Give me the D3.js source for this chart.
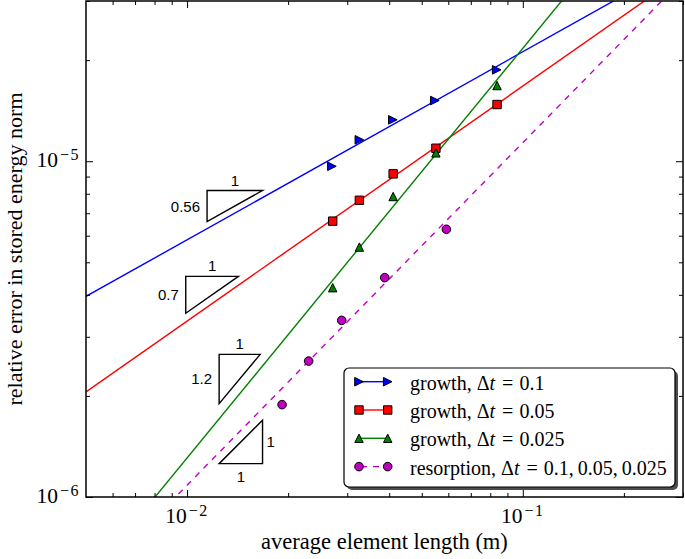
<!DOCTYPE html>
<html><head><meta charset="utf-8">
<script src="https://cdn.jsdelivr.net/npm/d3@7"></script>
<style>body{margin:0;background:#fff}</style>
</head><body><svg id="c" width="685" height="559"></svg>
<script>
// ---- data ----
const growthX01 = [0.0270, 0.0326, 0.0410, 0.0547, 0.0836];
const growthY01 = [9.66e-6, 1.158e-5, 1.328e-5, 1.516e-5, 1.871e-5];
const growthX005 = [0.02715, 0.0326, 0.0411, 0.0551, 0.0838];
const growthY005 = [6.63e-6, 7.65e-6, 9.17e-6, 1.093e-5, 1.475e-5];
const growthX0025 = [0.02715, 0.0326, 0.0411, 0.0551, 0.0838];
const growthY0025 = [4.20e-6, 5.55e-6, 7.85e-6, 1.059e-5, 1.68e-5];
const resorpX = [0.01918, 0.02302, 0.02888, 0.0388, 0.0592];
const resorpY = [1.884e-6, 2.54e-6, 3.357e-6, 4.50e-6, 6.27e-6];

// power-law fits  y = coef * x^exp
const fitExp = [0.56, 0.70, 1.22, 1.02];
const fitCoef = [7.69e-5, 8.39e-5, 3.60e-4, 1.189e-4];

// slope triangles (data space)
const triLeft = [0.01147, 0.00991, 0.01246, 0.01246];
const triRight = [0.01678, 0.01422, 0.01651, 0.01678];
const triRefY = [8.18e-6, 4.54e-6, 2.66e-6, 1.257e-6];
const triSlope = [0.56, 0.7, 1.2, 1.0];
const triLabel = ["0.56", "0.7", "1.2", "1"];
const triKind = ["upper", "upper", "upper", "lower"];

const legendLabels = ["growth, ", "growth, ", "growth, ", "resorption, "];
const legendDt = ["0.1", "0.05", "0.025", "0.1,\u20090.05,\u20090.025"];
const seriesColors = ["#0000ff", "#ff0000", "#008000", "#bf00bf"];
const seriesMarkers = ["right", "square", "up", "circle"];

const xMajor = [0.01, 0.1];
const xMajorExp = ["\u22122", "\u22121"];
const yMajor = [1e-6, 1e-5];
const yMajorExp = ["\u22126", "\u22125"];
const xMinor = [0.006,0.007,0.008,0.009,0.02,0.03,0.04,0.05,0.06,0.07,0.08,0.09,0.2,0.3];
const yMinor = [2e-6,3e-6,4e-6,5e-6,6e-6,7e-6,8e-6,9e-6,2e-5,3e-5];

// ---- layout ----
const L = 86, R = 683, T = 1, B = 497;
const svg = d3.select("#c");
const x = d3.scaleLog().domain([0.005, 0.3]).range([L, R]);
const y = d3.scaleLog().domain([1e-6, 3e-5]).range([B, T]);
const serif = "'Liberation Serif','Times New Roman',serif";
const sans = "'Liberation Sans',Arial,sans-serif";

svg.append("defs").append("clipPath").attr("id", "clip")
  .append("rect").attr("x", L).attr("y", T).attr("width", R - L).attr("height", B - T);

const plot = svg.append("g").attr("clip-path", "url(#clip)");

// fit lines
const dom = x.domain();
fitExp.forEach((e, i) => {
  const pts = dom.map(v => [v, fitCoef[i] * Math.pow(v, e)]);
  plot.append("path")
    .attr("d", d3.line().x(d => x(d[0])).y(d => y(d[1]))(pts))
    .attr("fill", "none").attr("stroke", seriesColors[i]).attr("stroke-width", 1.4)
    .attr("stroke-dasharray", i === 3 ? "6,6" : null);
});

function markerPath(kind, s) {
  if (kind === "right") return `M${s},0L${-s},${-s}L${-s},${s}Z`;
  if (kind === "up") return `M0,${-s}L${-s},${s}L${s},${s}Z`;
  if (kind === "square") return `M${-s},${-s}H${s}V${s}H${-s}Z`;
  return d3.symbol(d3.symbolCircle, Math.PI * s * s)();
}
const markerSize = [4.3, 4.2, 4.2, 4.3];

const series = [[growthX01, growthY01], [growthX005, growthY005], [growthX0025, growthY0025], [resorpX, resorpY]];
const markG = svg.append("g");
series.forEach(([xs, ys], i) => {
  markG.selectAll(null).data(xs.map((v, j) => [v, ys[j]])).enter().append("path")
    .attr("d", markerPath(seriesMarkers[i], markerSize[i]))
    .attr("transform", d => `translate(${x(d[0])},${y(d[1])})`)
    .attr("fill", seriesColors[i]).attr("stroke", "#000").attr("stroke-width", 1);
});

// slope triangles
const triG = svg.append("g");
triLeft.forEach((xl, i) => {
  const xr = triRight[i];
  const w = Math.log10(xr / xl);
  const f = Math.pow(10, triSlope[i] * w);
  let pts, hx, hy, sx, sy, anchor;
  if (triKind[i] === "upper") {
    const yt = triRefY[i], yb = yt / f;
    pts = [[xl, yt], [xr, yt], [xl, yb]];
    hx = (x(xl) + x(xr)) / 2; hy = y(yt) - 5;
    sx = x(xl) - 7; sy = (y(yt) + y(yb)) / 2 + 5.5; anchor = "end";
  } else {
    const yb = triRefY[i], yt = yb * f;
    pts = [[xl, yb], [xr, yb], [xr, yt]];
    hx = (x(xl) + x(xr)) / 2; hy = y(yb) + 18;
    sx = x(xr) + 4; sy = (y(yt) + y(yb)) / 2 + 5.5; anchor = "start";
  }
  triG.append("path")
    .attr("d", "M" + pts.map(p => [x(p[0]), y(p[1])].join(",")).join("L") + "Z")
    .attr("fill", "none").attr("stroke", "#000").attr("stroke-width", 1.4);
  triG.append("text").attr("x", hx).attr("y", hy).attr("text-anchor", "middle")
    .attr("font-family", sans).attr("font-size", 15).text("1");
  triG.append("text").attr("x", sx).attr("y", sy).attr("text-anchor", anchor)
    .attr("font-family", sans).attr("font-size", 15).text(triLabel[i]);
});

// axes (ticks inward on all sides)
function axes(gen, tf, vals, size) {
  const g = svg.append("g").attr("transform", tf)
    .call(gen.tickValues(vals).tickSize(-size).tickFormat(""));
  g.select(".domain").remove();
  g.selectAll(".tick line").attr("stroke", "#000").attr("stroke-width", 1);
}
axes(d3.axisBottom(x), `translate(0,${B})`, xMajor, 7);
axes(d3.axisBottom(x), `translate(0,${B})`, xMinor, 4);
axes(d3.axisTop(x), `translate(0,${T})`, xMajor, 7);
axes(d3.axisTop(x), `translate(0,${T})`, xMinor, 4);
axes(d3.axisLeft(y), `translate(${L},0)`, yMajor, 7);
axes(d3.axisLeft(y), `translate(${L},0)`, yMinor, 4);
axes(d3.axisRight(y), `translate(${R},0)`, yMajor, 7);
axes(d3.axisRight(y), `translate(${R},0)`, yMinor, 4);

svg.append("rect").attr("x", L).attr("y", T).attr("width", R - L).attr("height", B - T)
  .attr("fill", "none").attr("stroke", "#000").attr("stroke-width", 1.5);

// tick labels
function powLabel(px, py, anchor, exp) {
  const t = svg.append("text").attr("x", px).attr("y", py).attr("text-anchor", anchor)
    .attr("font-family", serif).attr("font-size", 21.5);
  t.append("tspan").text("10");
  t.append("tspan").attr("dx", 2).attr("dy", -7).attr("font-size", 16)
    .attr("letter-spacing", 1.5).text(exp);
}
xMajor.forEach((v, i) => powLabel(x(v), B + 26, "middle", xMajorExp[i]));
yMajor.forEach((v, i) => powLabel(L - 6, y(v) + 6, "end", yMajorExp[i]));

// axis labels
svg.append("text").attr("x", (L + R) / 2).attr("y", 549).attr("text-anchor", "middle")
  .attr("font-family", serif).attr("font-size", 22.5).text("average element length (m)");
svg.append("text").attr("transform", `translate(22,${(T + B) / 2}) rotate(-90)`)
  .attr("text-anchor", "middle").attr("font-family", serif).attr("font-size", 22)
  .text("relative error in stored energy norm");

// legend
const lg = svg.append("g");
const lx = 344, ly = 368, lw = 331, lh = 119;
lg.append("rect").attr("x", lx + 3).attr("y", ly + 3).attr("width", lw).attr("height", lh)
  .attr("rx", 5).attr("fill", "#4d4d4d");
lg.append("rect").attr("x", lx).attr("y", ly).attr("width", lw).attr("height", lh)
  .attr("rx", 5).attr("fill", "#fff").attr("stroke", "#000").attr("stroke-width", 1.2);
legendLabels.forEach((lab, i) => {
  const cy = 381.7 + i * 28.3;
  lg.append("line").attr("x1", 359).attr("x2", 387.7).attr("y1", cy).attr("y2", cy)
    .attr("stroke", seriesColors[i]).attr("stroke-width", 1.4)
    .attr("stroke-dasharray", i === 3 ? "6,6" : null)
    .attr("stroke-dashoffset", i === 3 ? -2 : null);
  [359, 387.7].forEach(mx => {
    lg.append("path").attr("d", markerPath(seriesMarkers[i], markerSize[i]))
      .attr("transform", `translate(${mx},${cy})`)
      .attr("fill", seriesColors[i]).attr("stroke", "#000").attr("stroke-width", 1);
  });
  const t = lg.append("text").attr("x", 410).attr("y", cy + 8)
    .attr("font-family", serif).attr("font-size", 20);
  t.append("tspan").text(lab + "\u0394");
  t.append("tspan").attr("font-style", "italic").text("t");
  t.append("tspan").attr("dx", 7).text("=");
  t.append("tspan").attr("dx", 6).text(legendDt[i]);
});
</script></body></html>
